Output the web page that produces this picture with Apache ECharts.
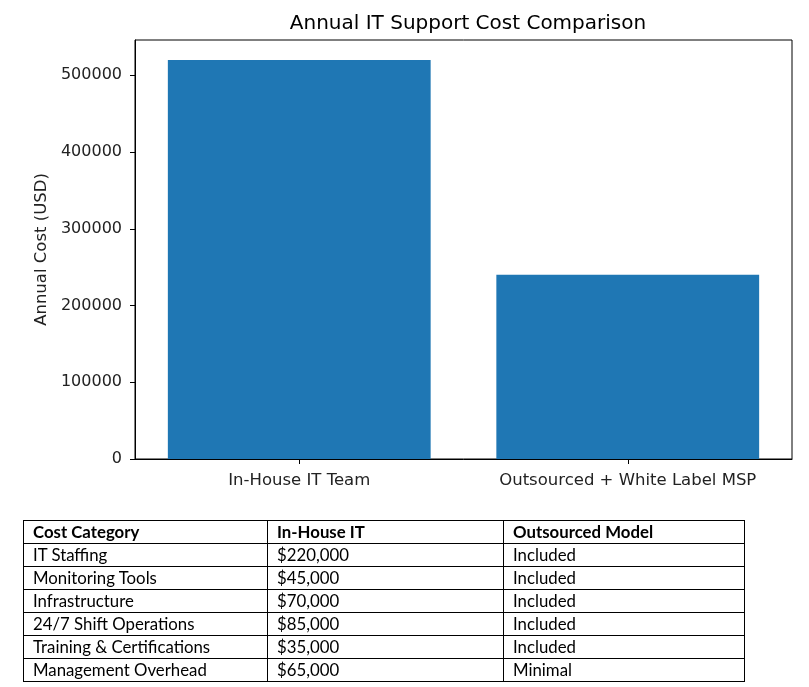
<!DOCTYPE html>
<html>
<head>
<meta charset="utf-8">
<script src="https://cdn.jsdelivr.net/npm/echarts@6/dist/echarts.min.js"></script>
<style>
    html, body { margin: 0; padding: 0; background: #fff; }
    #wrap { position: relative; width: 809px; height: 687px; }
    #chart { position: absolute; left: 0; top: 0; width: 809px; height: 687px; }
    #costTable {
        position: absolute; left: 23px; top: 520px; width: 721px;
        border-collapse: collapse; table-layout: fixed;
        font-family: Lato, "Open Sans", sans-serif; font-size: 16.8px; color: #000;
    }
    #costTable td, #costTable th {
        border: 1px solid #000; height: 22px; padding: 0 0 0 9px;
        text-align: left; white-space: nowrap; line-height: 22px;
    }
    #costTable th { font-weight: bold; }
</style>
</head>
<body>
<div id="wrap">
    <div id="chart"></div>
    <table id="costTable"></table>
</div>
<script>
// bar chart data
var categories = ['In-House IT Team', 'Outsourced + White Label MSP'];
var costs = [520000, 240000];
var yTicks = [0, 100000, 200000, 300000, 400000, 500000];

// table data
var tableHeader = ['Cost Category', 'In-House IT', 'Outsourced Model'];
var costCategories = ['IT Staffing', 'Monitoring Tools', 'Infrastructure', '24/7 Shift Operations', 'Training & Certifications', 'Management Overhead'];
var inHouseCosts = ['$220,000', '$45,000', '$70,000', '$85,000', '$35,000', '$65,000'];
var outsourcedCosts = ['Included', 'Included', 'Included', 'Included', 'Included', 'Minimal'];

var myChart = echarts.init(document.getElementById('chart'));
var option = {
    animation: false,
    title: {
        text: 'Annual IT Support Cost Comparison',
        left: 463,
        textAlign: 'center',
        top: 9,
        textStyle: {
            fontFamily: 'DejaVu Sans',
            fontSize: 20,
            fontWeight: 'normal',
            color: '#000'
        }
    },
    grid: {
        left: 135,
        right: 17,
        top: 40,
        bottom: 228,
        show: true,
        borderColor: '#000',
        borderWidth: 1
    },
    xAxis: {
        type: 'category',
        data: categories,
        axisLine: { show: true, lineStyle: { color: '#000' } },
        axisTick: { show: true, alignWithLabel: true, interval: 0, length: 5, lineStyle: { color: '#000' } },
        axisLabel: {
            interval: 0,
            hideOverlap: false,
            margin: 13,
            fontFamily: 'DejaVu Sans',
            fontSize: 16.5,
            color: '#222'
        }
    },
    yAxis: {
        type: 'value',
        min: 0,
        max: 546000,
        interval: 100000,
        name: 'Annual Cost (USD)',
        nameLocation: 'middle',
        nameGap: 84,
        nameTextStyle: {
            fontFamily: 'DejaVu Sans',
            fontSize: 16.5,
            color: '#222'
        },
        splitLine: { show: false },
        axisLine: { show: true, lineStyle: { color: '#000' } },
        axisTick: { show: true, length: 5, lineStyle: { color: '#000' }, customValues: yTicks },
        axisLabel: {
            margin: 13,
            fontFamily: 'DejaVu Sans',
            fontSize: 16,
            color: '#222',
            customValues: yTicks,
            formatter: function (v) { return String(v); }
        }
    },
    series: [
        {
            type: 'bar',
            data: costs,
            barWidth: '80%',
            itemStyle: { color: '#1f77b4' }
        }
    ]
};
myChart.setOption(option);

// build the table from the arrays
var html = '<tr>' + tableHeader.map(function (h) { return '<th>' + h + '</th>'; }).join('') + '</tr>';
for (var i = 0; i < costCategories.length; i++) {
    html += '<tr><td>' + costCategories[i].replace('&', '&amp;') + '</td><td>' + inHouseCosts[i] + '</td><td>' + outsourcedCosts[i] + '</td></tr>';
}
var tbl = document.getElementById('costTable');
tbl.innerHTML = '<colgroup><col style="width:244px"><col style="width:236px"><col style="width:241px"></colgroup>' + html;
</script>
</body>
</html>
